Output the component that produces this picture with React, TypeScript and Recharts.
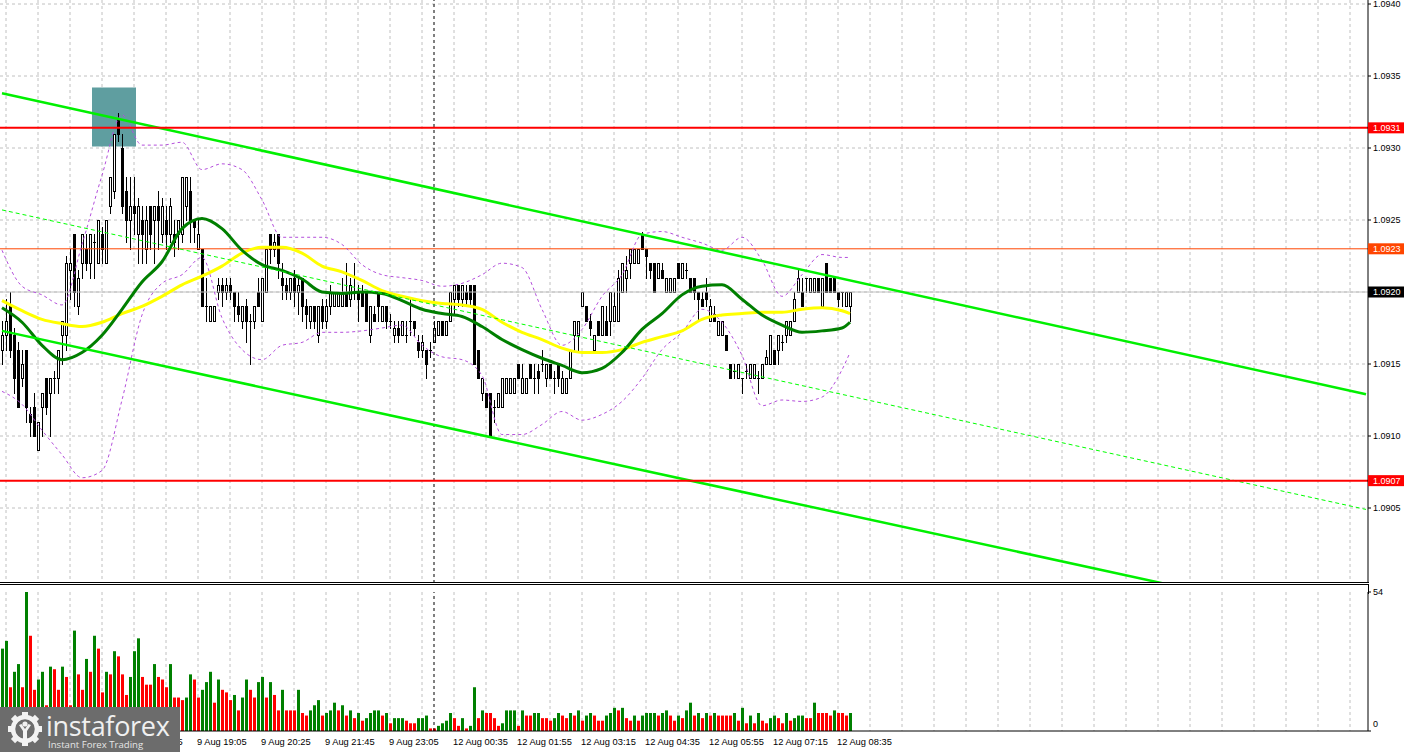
import React from 'react';
import {
  ComposedChart, Bar, Line, XAxis, YAxis, CartesianGrid,
  ReferenceLine, ReferenceArea, Cell,
} from 'recharts';

// ---------- DATA ----------
// OHLC candles, 5-minute EURUSD, [open, high, low, close]
const candles: [number, number, number, number][] = [
  [1.0916, 1.0918, 1.0915, 1.0917], [1.0917, 1.09195, 1.0916, 1.0918], [1.0919, 1.0920, 1.09155, 1.0916],
  [1.0917, 1.09175, 1.0913, 1.0914], [1.0916, 1.09165, 1.0912, 1.0912], [1.0914, 1.0916, 1.09135, 1.0915],
  [1.0916, 1.0916, 1.0911, 1.0912], [1.09115, 1.0912, 1.0910, 1.0911], [1.0912, 1.0913, 1.0910, 1.0910],
  [1.0909, 1.0911, 1.0909, 1.0911], [1.0912, 1.0913, 1.0910, 1.0913], [1.0914, 1.0914, 1.09115, 1.0912],
  [1.0913, 1.0914, 1.0910, 1.0914], [1.0914, 1.09145, 1.0913, 1.0914], [1.0914, 1.0916, 1.0913, 1.0916],
  [1.0917, 1.0918, 1.0915, 1.0918], [1.0917, 1.09225, 1.0916, 1.0922], [1.09215, 1.0923, 1.09195, 1.0922],
  [1.0924, 1.0924, 1.0919, 1.0920], [1.0919, 1.09215, 1.09185, 1.0921], [1.0922, 1.0924, 1.0921, 1.0924],
  [1.0923, 1.0924, 1.09215, 1.0922], [1.0922, 1.0924, 1.0921, 1.0924], [1.09235, 1.0924, 1.0921, 1.09235],
  [1.0922, 1.0925, 1.0922, 1.0925], [1.0924, 1.09245, 1.0922, 1.0923], [1.0922, 1.0925, 1.0922, 1.0925],
  [1.0926, 1.0928, 1.09255, 1.0928], [1.0927, 1.0931, 1.09265, 1.0931], [1.0932, 1.09324, 1.09305, 1.0931],
  [1.0930, 1.0931, 1.09255, 1.0926], [1.0927, 1.0928, 1.09235, 1.0925], [1.0925, 1.0928, 1.0923, 1.0926],
  [1.0926, 1.0928, 1.0924, 1.09255], [1.0924, 1.09265, 1.0922, 1.0926], [1.0925, 1.0926, 1.0922, 1.0924],
  [1.0923, 1.0926, 1.0922, 1.0925], [1.0926, 1.0926, 1.0923, 1.0924], [1.0925, 1.0926, 1.0922, 1.0926],
  [1.0926, 1.0927, 1.0923, 1.0925], [1.0924, 1.09265, 1.09235, 1.0926], [1.0925, 1.0926, 1.0923, 1.0924],
  [1.0924, 1.09265, 1.09235, 1.0926], [1.0924, 1.0925, 1.09225, 1.09235], [1.0924, 1.0925, 1.0923, 1.0925],
  [1.0924, 1.0928, 1.09235, 1.0928], [1.0926, 1.0928, 1.0925, 1.0928], [1.0927, 1.0928, 1.09235, 1.0925],
  [1.0925, 1.0925, 1.09235, 1.09245], [1.0923, 1.0925, 1.0923, 1.0924], [1.0923, 1.0923, 1.0919, 1.0919],
  [1.0919, 1.0921, 1.0918, 1.0919], [1.0918, 1.0919, 1.0918, 1.0919], [1.0918, 1.0919, 1.0918, 1.0919],
  [1.0920, 1.0921, 1.09195, 1.09205], [1.09205, 1.0921, 1.0919, 1.0920], [1.0920, 1.0921, 1.09195, 1.09205],
  [1.09205, 1.0921, 1.09195, 1.0920], [1.0920, 1.0920, 1.0918, 1.0919], [1.0919, 1.0920, 1.0918, 1.09185],
  [1.0918, 1.0919, 1.09175, 1.0919], [1.0919, 1.09195, 1.09165, 1.0918], [1.0918, 1.09185, 1.0915, 1.0918],
  [1.0918, 1.0919, 1.09175, 1.0919], [1.0920, 1.0921, 1.0919, 1.0919], [1.0918, 1.0921, 1.0918, 1.0921],
  [1.0920, 1.0923, 1.0920, 1.0923], [1.0924, 1.0924, 1.0922, 1.0923], [1.0923, 1.0924, 1.09225, 1.09235],
  [1.0924, 1.0924, 1.0921, 1.0922], [1.0921, 1.0922, 1.09195, 1.09205], [1.09205, 1.0921, 1.09195, 1.0920],
  [1.0920, 1.0921, 1.09195, 1.0921], [1.0921, 1.09215, 1.0919, 1.0920], [1.0920, 1.0921, 1.09185, 1.09205],
  [1.0921, 1.0921, 1.0918, 1.0919], [1.0919, 1.09195, 1.09175, 1.09185], [1.0918, 1.0919, 1.09175, 1.0919],
  [1.0919, 1.0919, 1.09175, 1.0918], [1.0917, 1.0919, 1.09165, 1.0919], [1.0919, 1.09195, 1.09175, 1.0918],
  [1.0918, 1.09195, 1.09175, 1.0919], [1.0919, 1.09205, 1.09185, 1.0920], [1.0919, 1.0920, 1.0919, 1.0920],
  [1.0919, 1.0920, 1.0919, 1.0920], [1.0919, 1.0921, 1.0919, 1.0920], [1.0920, 1.0922, 1.0919, 1.0919],
  [1.09195, 1.0921, 1.0919, 1.09205], [1.0920, 1.0922, 1.09195, 1.0920], [1.0920, 1.09205, 1.0918, 1.09195],
  [1.0920, 1.09205, 1.0919, 1.0919], [1.0920, 1.0920, 1.0918, 1.0918], [1.0917, 1.0919, 1.09165, 1.0919],
  [1.09185, 1.0919, 1.0918, 1.0918], [1.0920, 1.0920, 1.0918, 1.0919], [1.0918, 1.0919, 1.0918, 1.0919],
  [1.0919, 1.0919, 1.09175, 1.0918], [1.0918, 1.09185, 1.09175, 1.0918], [1.0917, 1.0918, 1.09165, 1.09175],
  [1.09175, 1.0918, 1.09165, 1.0917], [1.0917, 1.0918, 1.0917, 1.0918], [1.0917, 1.0918, 1.09165, 1.0917],
  [1.0918, 1.09195, 1.0917, 1.0918], [1.0918, 1.0918, 1.0917, 1.09175], [1.09165, 1.0917, 1.09155, 1.0916],
  [1.0916, 1.0917, 1.09155, 1.09165], [1.0916, 1.0916, 1.0914, 1.0915], [1.0916, 1.09165, 1.09155, 1.0916],
  [1.09165, 1.0918, 1.09165, 1.09175], [1.0917, 1.0918, 1.0917, 1.0918], [1.0918, 1.0918, 1.0917, 1.0917],
  [1.0917, 1.0918, 1.0917, 1.0918], [1.0918, 1.0920, 1.0918, 1.0920], [1.09195, 1.09205, 1.09185, 1.09205],
  [1.09205, 1.09205, 1.0919, 1.09195], [1.09195, 1.09205, 1.0919, 1.09205], [1.0920, 1.09205, 1.0919, 1.09195],
  [1.09205, 1.09205, 1.0919, 1.09195], [1.09205, 1.09205, 1.0915, 1.0915], [1.0916, 1.0916, 1.0914, 1.0914],
  [1.0913, 1.0914, 1.09125, 1.0914], [1.0913, 1.0913, 1.0912, 1.0912], [1.0913, 1.0913, 1.0910, 1.0910],
  [1.0912, 1.09125, 1.0911, 1.0912], [1.0912, 1.0913, 1.0912, 1.0913], [1.0912, 1.0914, 1.0912, 1.0914],
  [1.0913, 1.0914, 1.0913, 1.0914], [1.0913, 1.0914, 1.0913, 1.0914], [1.0913, 1.0914, 1.0913, 1.0914],
  [1.0915, 1.0915, 1.0914, 1.0914], [1.0913, 1.0915, 1.0913, 1.0914], [1.0913, 1.0914, 1.0913, 1.0914],
  [1.0915, 1.0915, 1.0914, 1.0914], [1.0914, 1.0915, 1.0913, 1.0914], [1.09145, 1.0915, 1.0913, 1.0914],
  [1.0915, 1.0916, 1.09145, 1.0915], [1.0914, 1.0915, 1.09135, 1.0915], [1.0915, 1.0915, 1.0914, 1.0914],
  [1.0914, 1.09145, 1.0913, 1.0914], [1.0915, 1.0915, 1.09135, 1.0914], [1.0913, 1.09145, 1.0913, 1.0914],
  [1.0913, 1.0914, 1.0913, 1.0914], [1.0914, 1.0916, 1.0914, 1.0916], [1.0917, 1.0918, 1.0916, 1.0918],
  [1.0917, 1.0918, 1.0916, 1.0918], [1.0919, 1.0920, 1.0919, 1.0920], [1.0919, 1.0919, 1.0918, 1.0918],
  [1.0918, 1.09185, 1.0917, 1.09175], [1.0916, 1.0917, 1.0916, 1.0917], [1.0918, 1.0918, 1.0917, 1.0917],
  [1.0917, 1.0919, 1.0917, 1.0919], [1.0918, 1.0919, 1.0917, 1.0917], [1.0918, 1.0920, 1.0917, 1.0920],
  [1.0918, 1.0920, 1.0918, 1.0919], [1.0918, 1.09215, 1.0918, 1.0921], [1.0920, 1.0922, 1.0920, 1.0922],
  [1.0921, 1.09225, 1.0920, 1.09215], [1.0922, 1.0923, 1.0921, 1.0923], [1.0922, 1.0923, 1.0922, 1.0923],
  [1.0922, 1.0923, 1.0922, 1.0923], [1.0924, 1.09242, 1.0923, 1.0923], [1.0923, 1.0923, 1.0921, 1.09225],
  [1.0922, 1.0922, 1.0921, 1.09215], [1.0922, 1.0922, 1.0920, 1.0920], [1.0921, 1.0922, 1.0921, 1.0922],
  [1.09215, 1.0922, 1.0921, 1.0921], [1.0920, 1.0921, 1.0920, 1.0921], [1.0920, 1.0921, 1.0920, 1.0921],
  [1.0920, 1.0921, 1.0920, 1.0921], [1.0922, 1.0922, 1.0921, 1.0921], [1.0921, 1.0922, 1.0921, 1.0922],
  [1.09215, 1.0922, 1.0921, 1.09215], [1.0921, 1.0921, 1.0920, 1.0920], [1.0921, 1.0921, 1.09195, 1.0920],
  [1.0920, 1.0920, 1.0918, 1.09195], [1.09195, 1.0920, 1.0919, 1.0919], [1.0920, 1.0921, 1.0919, 1.09195],
  [1.0918, 1.09195, 1.0918, 1.0919], [1.09185, 1.0919, 1.0918, 1.0918], [1.0917, 1.0918, 1.0917, 1.0918],
  [1.0917, 1.0918, 1.0917, 1.0918], [1.0917, 1.0917, 1.0916, 1.0916], [1.0915, 1.0915, 1.0914, 1.0914],
  [1.09145, 1.0915, 1.0914, 1.09145], [1.0914, 1.0915, 1.0914, 1.0915], [1.0914, 1.0914, 1.0913, 1.0914],
  [1.09145, 1.0915, 1.0914, 1.09145], [1.0914, 1.0915, 1.0914, 1.0915], [1.0914, 1.0915, 1.0914, 1.0915],
  [1.0914, 1.09145, 1.0913, 1.0914], [1.0914, 1.0915, 1.0914, 1.0915], [1.0915, 1.0916, 1.0915, 1.09155],
  [1.0915, 1.0917, 1.0915, 1.0917], [1.0916, 1.0916, 1.0915, 1.0915], [1.0916, 1.0917, 1.0915, 1.0917],
  [1.09165, 1.0917, 1.0916, 1.09165], [1.0917, 1.0918, 1.09165, 1.0918], [1.0917, 1.0918, 1.0917, 1.0918],
  [1.0918, 1.0920, 1.0918, 1.09195], [1.0920, 1.09217, 1.0920, 1.0921], [1.0920, 1.0921, 1.0919, 1.0919],
  [1.0921, 1.0921, 1.0920, 1.0921], [1.0920, 1.0921, 1.0920, 1.0921], [1.0920, 1.0921, 1.0920, 1.0921],
  [1.0921, 1.0921, 1.0920, 1.0920], [1.0919, 1.0921, 1.0919, 1.0921], [1.0922, 1.0922, 1.0920, 1.0920],
  [1.0921, 1.0921, 1.0920, 1.0920], [1.0921, 1.0921, 1.0920, 1.0920], [1.0920, 1.0920, 1.0919, 1.09195],
  [1.0920, 1.0920, 1.0919, 1.0920], [1.0919, 1.0920, 1.0919, 1.0920], [1.0919, 1.0920, 1.0918, 1.0920],
];

// Tick volumes per candle
const volumes: number[] = [
  32, 35, 17, 23, 26, 17, 54, 37, 16, 20,
  23, 10, 25, 24, 16, 25, 21, 10, 39, 22,
  16, 28, 23, 37, 32, 15, 23, 22, 31, 29,
  22, 14, 21, 31, 36, 21, 18, 18, 26, 21,
  20, 17, 26, 13, 13, 12, 13, 22, 20, 13,
  16, 19, 23, 11, 20, 16, 15, 12, 14, 8,
  13, 20, 16, 13, 19, 21, 13, 19, 14, 8,
  16, 8, 8, 8, 16, 7, 6, 8, 10, 12,
  6, 7, 8, 11, 8, 10, 6, 8, 5, 7,
  4, 5, 7, 8, 8, 6, 7, 3, 5, 5,
  5, 4, 3, 3, 5, 5, 6, 1, 1, 2,
  3, 4, 7, 5, 2, 5, 1, 2, 17, 5,
  8, 7, 7, 5, 2, 3, 8, 8, 8, 2,
  8, 6, 6, 7, 7, 5, 5, 4, 5, 7,
  6, 5, 7, 6, 8, 4, 6, 7, 6, 4,
  4, 6, 7, 9, 8, 9, 5, 4, 6, 4,
  6, 7, 7, 7, 6, 7, 8, 6, 4, 6,
  5, 8, 11, 6, 7, 5, 7, 6, 7, 6,
  6, 6, 6, 7, 4, 9, 3, 6, 3, 7,
  4, 3, 5, 6, 5, 3, 7, 4, 5, 6,
  6, 5, 5, 11, 7, 7, 7, 6, 8, 7,
  7, 6, 7,
];

// Indicator values read at sampled candles
const indicatorIdx = [0, 5, 10, 15, 20, 25, 30, 35, 40, 45, 50, 55, 60, 65, 70, 75, 80, 85, 90, 95, 100,
  105, 110, 115, 120, 125, 130, 135, 140, 145, 150, 155, 160, 165, 170, 175, 180, 185, 190, 195, 200, 205, 210, 212];
const maFast = [1.09189, 1.09179, 1.09163, 1.09153, 1.09158, 1.09170, 1.09188, 1.09207, 1.09221, 1.09244,
  1.09251, 1.09244, 1.09229, 1.09219, 1.09215, 1.09209, 1.09200, 1.09199, 1.09200, 1.09199, 1.09194,
  1.09188, 1.09185, 1.09183, 1.09176, 1.09167, 1.09160, 1.09154, 1.09149, 1.09144, 1.09147, 1.09158,
  1.09174, 1.09185, 1.09198, 1.09204, 1.09205, 1.09195, 1.09184, 1.09177, 1.09172, 1.09173, 1.09175, 1.09179];
const maSlow = [1.09194, 1.09187, 1.09181, 1.09178, 1.09176, 1.09179, 1.09185, 1.09190, 1.09197, 1.09205,
  1.09211, 1.09218, 1.09227, 1.09231, 1.09231, 1.09227, 1.09218, 1.09214, 1.09208, 1.09201, 1.09197,
  1.09194, 1.09192, 1.09191, 1.09188, 1.09179, 1.09172, 1.09167, 1.09161, 1.09158, 1.09158, 1.09160,
  1.09165, 1.09169, 1.09173, 1.09181, 1.09184, 1.09185, 1.09186, 1.09186, 1.09188, 1.09189, 1.09187, 1.09185];
const bandUpper = [1.09229, 1.09204, 1.09198, 1.09191, 1.09233, 1.09281, 1.09323, 1.09302, 1.09302, 1.09304,
  1.09285, 1.09289, 1.09285, 1.09264, 1.09238, 1.09238, 1.09238, 1.09233, 1.09219, 1.09212, 1.09210,
  1.09208, 1.09204, 1.09206, 1.09212, 1.09220, 1.09217, 1.09188, 1.09163, 1.09174, 1.09197, 1.09212,
  1.09240, 1.09242, 1.09238, 1.09234, 1.09229, 1.09238, 1.09222, 1.09197, 1.09212, 1.09226, 1.09224, 1.09224];
const bandLower = [1.09131, 1.09122, 1.09104, 1.09087, 1.09071, 1.09076, 1.09125, 1.09184, 1.09206, 1.09212,
  1.09224, 1.09182, 1.09160, 1.09153, 1.09163, 1.09165, 1.09172, 1.09172, 1.09173, 1.09175, 1.09177,
  1.09163, 1.09155, 1.09153, 1.09142, 1.09101, 1.09101, 1.09108, 1.09117, 1.09111, 1.09115, 1.09124,
  1.09140, 1.09160, 1.09172, 1.09188, 1.09179, 1.09156, 1.09121, 1.09125, 1.09124, 1.09127, 1.09146, 1.09158];

// Trend channel: [candle index, price] endpoints
const channelUpper: [number, number][] = [[0, 1.09338], [341, 1.09129]];
const channelLower: [number, number][] = [[0, 1.09173], [341, 1.08967]];
const channelMid: [number, number][] = [[0, 1.09257], [341, 1.09049]];

// Horizontal levels (value, price-tag text)
const resistanceLevel = 1.09314;
const supportLevel = 1.09069;
const highLevel = 1.0923;
const bidLevel = 1.0920;
const levelTags: { v: number; text: string }[] = [
  { v: resistanceLevel, text: '1.0931' },
  { v: highLevel, text: '1.0923' },
  { v: bidLevel, text: '1.0920' },
  { v: supportLevel, text: '1.0907' },
];

// Signal box: candle range and price range
const signalBox = { i1: 23, i2: 33, p1: 1.09301, p2: 1.09342 };

// Day separator (first candle of 12 Aug)
const daySeparatorIdx = 108;

// Axis ticks
const priceTicks = [1.0905, 1.0910, 1.0915, 1.0920, 1.0925, 1.0930, 1.0935, 1.0940];
const volumeTicks = [0, 54];
const timeLabelIdx = [33, 49, 65, 81, 97, 113, 129, 145, 161, 177, 193, 209];
const timeLabels = ['9 Aug 17:45', '9 Aug 19:05', '9 Aug 20:25', '9 Aug 21:45',
  '9 Aug 23:05', '12 Aug 00:35', '12 Aug 01:55', '12 Aug 03:15', '12 Aug 04:35', '12 Aug 05:55',
  '12 Aug 07:15', '12 Aug 08:35'];

// ---------- LAYOUT / STYLE ----------
const W = 1407;
const H = 752;
const SLOTS = 342;
const AXIS_W = 39;
const PRICE_H = 583;
const PX_PER_UNIT = 144000;
const P_MAX = 1.0920 + 292 / PX_PER_UNIT;
const P_MIN = P_MAX - PRICE_H / PX_PER_UNIT;
const VOL_TOP = 584;
const VOL_H = 168;
const FONT = '"Liberation Sans", Arial, sans-serif';
const TAG_BG = ['#FF0000', '#FF4500', '#000000', '#FF0000'];

const gridIdx: number[] = [];
for (let k = 1; k < SLOTS; k += 8) gridIdx.push(k);

const rows: any[] = [];
for (let i = 0; i < SLOTS; i++) {
  const r: any = { i };
  if (i < candles.length) {
    const [o, h, l, c] = candles[i];
    r.o = o; r.h = h; r.l = l; r.c = c; r.range = [l, h];
    r.vol = volumes[i];
  }
  rows.push(r);
}
indicatorIdx.forEach((idx, k) => {
  rows[idx].maFast = maFast[k];
  rows[idx].maSlow = maSlow[k];
  rows[idx].bandUpper = bandUpper[k];
  rows[idx].bandLower = bandLower[k];
});

// volume colour: up if greater than previous, down if less, unchanged keeps colour
const volColors: string[] = [];
volumes.forEach((v, i) => {
  if (i === 0) volColors.push('#008000');
  else if (v > volumes[i - 1]) volColors.push('#008000');
  else if (v < volumes[i - 1]) volColors.push('#FF0000');
  else volColors.push(volColors[i - 1]);
});

const Candle = (props: any) => {
  const { x, y, width, height, payload } = props;
  if (!payload || payload.o == null || x == null) return <g />;
  const { o, h, l, c } = payload;
  const top = Math.min(y, y + height);
  const bot = Math.max(y, y + height);
  const span = h - l;
  const py = (p: number) => (span > 0 ? top + ((h - p) / span) * (bot - top) : top);
  const cx = Math.floor(x + width / 2);
  const yo = py(o);
  const yc = py(c);
  const bTop = Math.round(Math.min(yo, yc));
  const bBot = Math.round(Math.max(yo, yc));
  const wickTop = Math.round(top);
  const wickBot = Math.round(bot);
  const bull = c > o;
  return (
    <g shapeRendering="crispEdges">
      <line x1={cx + 0.5} x2={cx + 0.5} y1={wickTop} y2={wickBot + 1} stroke="#000" strokeWidth={1} />
      {bBot - bTop < 1 ? (
        <line x1={cx - 1} x2={cx + 2} y1={bTop + 0.5} y2={bTop + 0.5} stroke="#000" strokeWidth={1} />
      ) : (
        <rect x={cx - 0.5} y={bTop + 0.5} width={2} height={bBot - bTop} fill={bull ? '#fff' : '#000'} stroke="#000" strokeWidth={1} />
      )}
    </g>
  );
};

const PriceTick = (props: any) => {
  const { x, y, payload } = props;
  const v = payload.value as number;
  const k = levelTags.findIndex((t) => Math.abs(t.v - v) < 1e-7);
  if (k >= 0) {
    return (
      <g>
        <rect x={x - 5} y={y - 5.5} width={36} height={11} fill={TAG_BG[k]} />
        <text x={x} y={y} dy="0.36em" fill="#fff" fontSize={9} fontFamily={FONT} textAnchor="start">{levelTags[k].text}</text>
      </g>
    );
  }
  return (
    <text x={x} y={y} dy="0.36em" fill="#000" fontSize={9} fontFamily={FONT} textAnchor="start">{v.toFixed(4)}</text>
  );
};

const VolTick = (props: any) => {
  const { x, y, payload } = props;
  const v = payload.value as number;
  return (
    <text x={x} y={v === 0 ? y - 7 : y} dy="0.36em" fill="#000" fontSize={9} fontFamily={FONT} textAnchor="start">{String(v)}</text>
  );
};

const TimeTick = (props: any) => {
  const { x, y, payload } = props;
  const k = timeLabelIdx.indexOf(payload.value);
  if (k < 0) return <g />;
  return (
    <text x={x - 1} y={y + 13.5} fill="#000" fontSize={9.3} fontFamily={FONT} textAnchor="start">{timeLabels[k]}</text>
  );
};

const Logo = () => (
  <div style={{ position: 'absolute', left: 0, top: 707, width: 180, height: 45, background: '#6c6c6c', overflow: 'hidden' }}>
    <svg width={40} height={45} style={{ position: 'absolute', left: 5, top: 0 }}>
      <g transform="translate(20,22)" fill="#f2f2f2">
        {[0, 45, 90, 135, 180, 225, 270, 315].map((a) => (
          <rect key={a} x={-3} y={-17} width={6} height={7} transform={`rotate(${a})`} />
        ))}
        <circle r={12} fill="none" stroke="#f2f2f2" strokeWidth={4.5} />
        <circle cx={0} cy={-5} r={2.6} />
        <path d="M-6,-4 L-2,2 L-2,11 L2,11 L2,2 L6,-4 L3.5,-5 L0,0 L-3.5,-5 Z" />
      </g>
    </svg>
    <div style={{ position: 'absolute', left: 46, top: 5, height: 27, lineHeight: '27px', fontFamily: '"Open Sans", sans-serif', fontSize: 27, color: '#f0f0f0', letterSpacing: -0.3, whiteSpace: 'nowrap' }}>
      instaforex
    </div>
    <div style={{ position: 'absolute', left: 48, top: 32, height: 11, lineHeight: '11px', fontFamily: '"Open Sans", sans-serif', fontSize: 9.6, color: '#e6e6e6', whiteSpace: 'nowrap' }}>
      Instant Forex Trading
    </div>
  </div>
);

export default function App() {
  return (
    <div style={{ position: 'fixed', left: 0, top: 0, width: W, height: H, background: '#fff', overflow: 'hidden', fontFamily: FONT }}>
      <div style={{ position: 'absolute', left: 0, top: 0 }}>
        <ComposedChart width={W} height={PRICE_H} data={rows} margin={{ top: 0, right: 0, bottom: 0, left: 0 }}>
          <CartesianGrid stroke="#C0C0C0" strokeDasharray="3 3" horizontalValues={priceTicks} verticalValues={gridIdx} />
          <XAxis dataKey="i" type="category" ticks={gridIdx} interval={0} hide />
          <YAxis
            orientation="right"
            width={AXIS_W}
            type="number"
            domain={[P_MIN, P_MAX]}
            allowDataOverflow
            ticks={[...priceTicks, resistanceLevel, highLevel, supportLevel]}
            interval={0}
            tickSize={3}
            tickMargin={2}
            axisLine={{ stroke: '#000' }}
            tickLine={{ stroke: '#000' }}
            tick={<PriceTick />}
          />
          <ReferenceArea x1={signalBox.i1} x2={signalBox.i2} y1={signalBox.p1} y2={signalBox.p2} fill="#5F9EA0" fillOpacity={1} stroke="none" ifOverflow="visible" />
          <ReferenceLine x={daySeparatorIdx} stroke="#000" strokeDasharray="3 3" />
          <ReferenceLine y={bidLevel} stroke="#C0C0C0" strokeWidth={1} />
          <ReferenceLine y={highLevel} stroke="#FF4500" strokeWidth={1} />
          <Bar dataKey={(d: any) => d.range} barSize={3} isAnimationActive={false} shape={(p: any) => <Candle {...p} />} />
          <Line dataKey="bandUpper" type="monotone" stroke="#B44FDC" strokeWidth={1} strokeDasharray="3 3" dot={false} activeDot={false} legendType="none" connectNulls isAnimationActive={false} />
          <Line dataKey="bandLower" type="monotone" stroke="#B44FDC" strokeWidth={1} strokeDasharray="3 3" dot={false} activeDot={false} legendType="none" connectNulls isAnimationActive={false} />
          <Line dataKey="maSlow" type="monotone" stroke="#FFFF00" strokeWidth={3} dot={false} activeDot={false} legendType="none" connectNulls isAnimationActive={false} />
          <Line dataKey="maFast" type="monotone" stroke="#007F00" strokeWidth={3} dot={false} activeDot={false} legendType="none" connectNulls isAnimationActive={false} />
          <ReferenceLine
            segment={channelMid.map(([i, p]) => ({ x: i, y: p }))}
            stroke="#00FF00" strokeWidth={1} strokeDasharray="4 3" ifOverflow="hidden"
          />
          <ReferenceLine
            segment={channelUpper.map(([i, p]) => ({ x: i, y: p }))}
            stroke="#00F000" strokeWidth={2.5} ifOverflow="hidden"
          />
          <ReferenceLine
            segment={channelLower.map(([i, p]) => ({ x: i, y: p }))}
            stroke="#00F000" strokeWidth={2.5} ifOverflow="hidden"
          />
          <ReferenceLine y={resistanceLevel} stroke="#FF0000" strokeWidth={2} />
          <ReferenceLine y={supportLevel} stroke="#FF0000" strokeWidth={2} />
        </ComposedChart>
      </div>
      <div style={{ position: 'absolute', left: 0, top: 582, width: W - AXIS_W + 1, height: 1, background: '#000' }} />
      <div style={{ position: 'absolute', left: 0, top: VOL_TOP, width: W - AXIS_W + 1, height: 1, background: '#000' }} />
      <div style={{ position: 'absolute', left: W - AXIS_W, top: VOL_TOP, width: 1, height: 10, background: '#000' }} />
      <div style={{ position: 'absolute', left: 0, top: VOL_TOP }}>
        <ComposedChart width={W} height={VOL_H} data={rows} margin={{ top: 8, right: 0, bottom: 0, left: 0 }}>
          <CartesianGrid stroke="#C0C0C0" strokeDasharray="3 3" horizontal={false} verticalValues={gridIdx} />
          <XAxis
            dataKey="i"
            type="category"
            ticks={gridIdx}
            interval={0}
            height={21}
            tickLine={false}
            tickSize={0}
            tickMargin={0}
            axisLine={{ stroke: '#000' }}
            tick={<TimeTick />}
          />
          <YAxis
            orientation="right"
            width={AXIS_W}
            type="number"
            domain={[0, 54]}
            allowDataOverflow
            ticks={volumeTicks}
            interval={0}
            tickSize={3}
            tickMargin={2}
            axisLine={{ stroke: '#000' }}
            tickLine={{ stroke: '#000' }}
            tick={<VolTick />}
          />
          <ReferenceLine x={daySeparatorIdx} stroke="#000" strokeDasharray="3 3" />
          <Bar dataKey="vol" barSize={3} isAnimationActive={false}>
            {rows.map((r, i) => (
              <Cell key={i} fill={i < volColors.length ? volColors[i] : '#008000'} />
            ))}
          </Bar>
        </ComposedChart>
      </div>
      <Logo />
    </div>
  );
}
